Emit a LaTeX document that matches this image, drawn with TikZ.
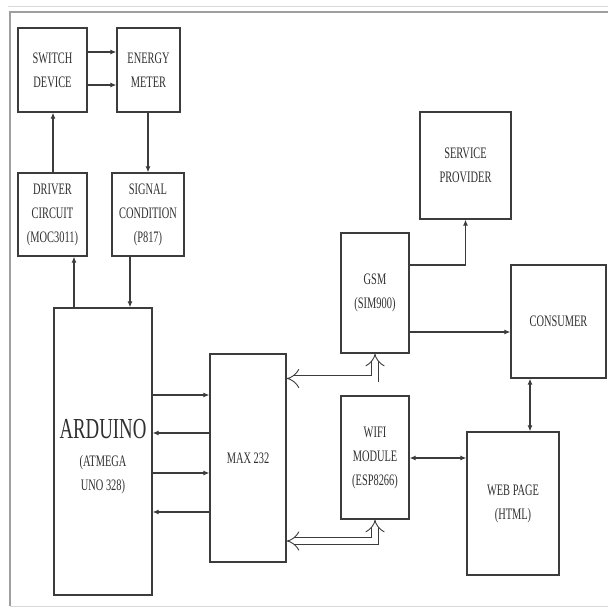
\documentclass[tikz,border=0pt]{standalone}
\usepackage{fontspec}
\setmainfont{Liberation Serif}
\newfontfamily\condfont[FakeStretch=0.65]{Liberation Serif}
\usetikzlibrary{arrows.meta}
\definecolor{ink}{HTML}{3C3C3C}
\definecolor{txt}{HTML}{303030}
\tikzset{
  box/.style={draw=ink, line width=1.3pt, inner sep=0pt, align=center,
    text=txt, font=\condfont\fontsize{16}{24}\selectfont},
  arr/.style={draw=ink, line width=1.1pt, -{Latex[length=6pt,width=5pt]}},
  biarr/.style={draw=ink, line width=1.1pt, {Latex[length=6pt,width=5pt]}-{Latex[length=6pt,width=5pt]}},
  hollow/.style={draw=ink, line width=0.9pt, double=white, double distance=6pt,
    {Implies}-{Implies}},
  frame/.style={draw=gray!75, line width=1.2pt},
  faint/.style={draw=gray!30, line width=1pt}
}
\begin{document}
\begin{tikzpicture}[x=1pt,y=-1pt]
\useasboundingbox (0,0) rectangle (608,609);
% frame
\draw[faint] (8,7) -- (608,7);
\draw[frame] (608,12) -- (10,12) -- (10,606);
\draw[faint] (10,606) -- (608,606);
% boxes
\node[box, minimum width=69pt, minimum height=84pt] (sw) at (52.5,70) {SWITCH\\DEVICE};
\node[box, minimum width=63pt, minimum height=84pt] (em) at (148.5,70) {ENERGY\\METER};
\node[box, minimum width=69pt, minimum height=83pt] (drv) at (52.5,214.5) {DRIVER\\CIRCUIT\\(MOC3011)};
\node[box, minimum width=72pt, minimum height=83pt] (sig) at (148,214.5) {SIGNAL\\CONDITION\\(P817)};
\node[box, minimum width=98pt, minimum height=287pt] (ard) at (103,451.5) {};
\node[align=center, text=txt, font=\condfont\fontsize{16}{30}\selectfont, inner sep=0pt] (ardtext) at (103,457)
  {{\fontsize{29}{30}\selectfont ARDUINO}\\[-2pt](ATMEGA\\[-6pt]UNO 328)};
\node[box, minimum width=76pt, minimum height=208pt] (max) at (248,458) {MAX 232};
\node[box, minimum width=91pt, minimum height=107pt] (sp) at (465.5,165.5) {SERVICE\\PROVIDER};
\node[box, minimum width=68pt, minimum height=120pt] (gsm) at (375,293) {GSM\\(SIM900)};
\node[box, minimum width=95pt, minimum height=113pt] (con) at (558.5,321.5) {CONSUMER};
\node[box, minimum width=68pt, minimum height=123pt] (wifi) at (375,457.5) {WIFI\\MODULE\\(ESP8266)};
\node[box, minimum width=92pt, minimum height=143pt] (web) at (513,503.5) {WEB PAGE\\(HTML)};
% connectors
\draw[arr] (sw.east |- 0,52) -- (em.west |- 0,52);
\draw[arr] (sw.east |- 0,85) -- (em.west |- 0,85);
\draw[arr] (53,0 |- drv.north) -- (53,0 |- sw.south);
\draw[arr] (148,0 |- em.south) -- (148,0 |- sig.north);
\draw[arr] (74,0 |- ard.north) -- (74,0 |- drv.south);
\draw[arr] (130,0 |- sig.south) -- (130,0 |- ard.north);
\draw[arr] (ard.east |- 0,395) -- (max.west |- 0,395);
\draw[arr] (max.west |- 0,433) -- (ard.east |- 0,433);
\draw[arr] (ard.east |- 0,473) -- (max.west |- 0,473);
\draw[arr] (max.west |- 0,512) -- (ard.east |- 0,512);
\draw[arr] (gsm.east |- 0,265) -| (sp.south);
\draw[arr] (gsm.east |- 0,332) -- (con.west |- 0,332);
\draw[biarr] (wifi.east |- 0,458) -- (web.west |- 0,458);
\draw[biarr] (530,0 |- con.south) -- (530,0 |- web.north);
\draw[hollow] (max.east |- 0,378.5) -| (gsm.south);
\draw[hollow] (max.east |- 0,541) -| (wifi.south);
\end{tikzpicture}
\end{document}
